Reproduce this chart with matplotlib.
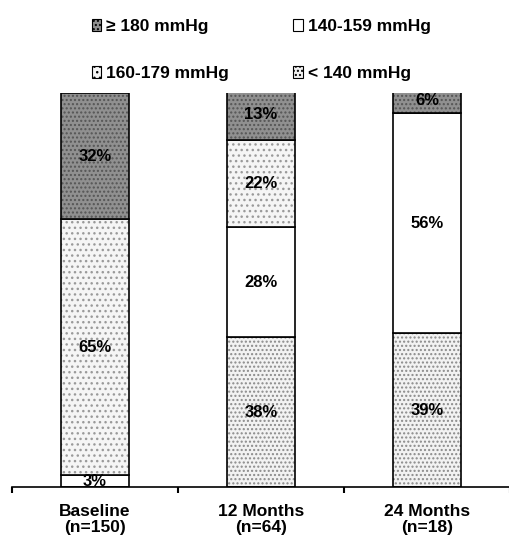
import numpy as np
from matplotlib import pyplot as plt
from matplotlib.patches import Patch

plt.rcParams['font.family'] = ['Liberation Sans', 'DejaVu Sans']
plt.rcParams['font.weight'] = 'bold'

groups = ['Baseline\n(n=150)', '12 Months\n(n=64)', '24 Months\n(n=18)']
lt140 = [0, 38, 39]
p140_159 = [3, 28, 56]
p160_179 = [65, 22, 0]
ge180 = [32, 13, 6]

series = [
    ('< 140 mmHg', lt140, '#f2f2f2', '#8a8a8a', '....'),
    ('140-159 mmHg', p140_159, 'white', 'white', None),
    ('160-179 mmHg', p160_179, '#f5f5f5', '#9a9a9a', '...'),
    ('\u2265 180 mmHg', ge180, '#909090', '#555555', '....'),
]

fig = plt.figure(figsize=(5.1, 5.43), dpi=100)
ax = fig.add_axes([12 / 510, 56 / 543, 498 / 510, 394 / 543])

x = np.arange(len(groups))
w = 0.41
bottom = np.zeros(len(groups))
handles = {}
for name, vals, fc, hc, hatch in series:
    vals = np.array(vals, dtype=float)
    ax.bar(x, vals, w, bottom=bottom, color=fc, edgecolor=hc, hatch=hatch, linewidth=0)
    ax.bar(x, vals, w, bottom=bottom, fill=False, edgecolor='black', linewidth=1.2)
    for i, v in enumerate(vals):
        if v > 0:
            ax.text(x[i], bottom[i] + v / 2, '%d%%' % v, ha='center', va='center',
                    fontsize=12, fontweight='bold', color='black')
    handles[name] = Patch(facecolor=fc, edgecolor='black', hatch=hatch, linewidth=0.8)
    bottom += vals

ax.set_xlim(-0.5, 2.5)
ax.set_ylim(0, 100)
for s in ['left', 'right', 'top']:
    ax.spines[s].set_visible(False)
ax.spines['bottom'].set_linewidth(1.2)
ax.set_yticks([])
ax.set_xticks(x)
ax.set_xticklabels(groups, fontsize=12.5, fontweight='bold', linespacing=1.1)
ax.tick_params(axis='x', which='major', length=0, pad=12)
ax.set_xticks([-0.5, 0.5, 1.5, 2.5], minor=True)
ax.tick_params(axis='x', which='minor', length=4, width=1.5, direction='out')

order = ['\u2265 180 mmHg', '160-179 mmHg', '140-159 mmHg', '< 140 mmHg']
fig.legend([handles[k] for k in order], order, ncol=2, loc='upper left',
           bbox_to_anchor=(76 / 510, 0.994), frameon=False,
           prop={'size': 12.5, 'weight': 'bold'}, handlelength=0.55, handleheight=0.65,
           handletextpad=0.3, labelspacing=1.85, columnspacing=3.7)

plt.savefig('out.png', dpi=100)
